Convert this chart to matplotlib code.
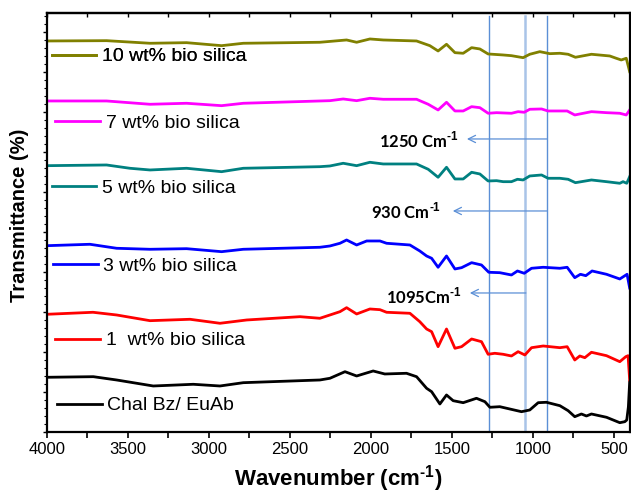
import matplotlib
matplotlib.use("Agg")
import matplotlib.pyplot as plt
from matplotlib.ticker import MultipleLocator

# -----------------------------
# FTIR spectra (stacked, arbitrary offset units)
# -----------------------------
wn_neat = [4000, 3714, 3570, 3344, 3097, 2932, 2788, 2315, 2253, 2160, 2088, 1986,
           1914, 1780, 1718, 1656, 1625, 1574, 1533, 1492, 1430, 1348, 1296, 1265,
           1204, 1070, 1019, 967, 916, 833, 782, 741, 700, 669, 638, 545, 463, 432,
           420, 410, 402]
tr_neat = [54.7, 55.3, 52.0, 46.0, 47.7, 46.0, 49.3, 52.0, 53.7, 60.3, 56.0, 61.0,
           58.0, 58.7, 55.3, 43.7, 40.3, 28.0, 37.0, 31.3, 29.3, 33.7, 30.3, 24.7,
           25.3, 20.3, 22.0, 29.3, 29.7, 26.3, 21.3, 15.3, 18.0, 16.0, 18.0, 14.7,
           9.3, 10.3, 12.0, 25.0, 50.0]

wn_1 = [4000, 3716, 3570, 3364, 3117, 2932, 2767, 2438, 2315, 2253, 2191, 2150, 2088,
        2006, 1944, 1903, 1759, 1698, 1656, 1625, 1585, 1533, 1481, 1440, 1378, 1317,
        1276, 1235, 1183, 1132, 1091, 1049, 1008, 936, 833, 788, 741, 710, 679, 638,
        545, 463, 426, 412, 402]
tr_1 = [117.7, 119.7, 117.0, 111.3, 112.7, 108.7, 112.0, 115.3, 113.7, 117.0, 120.3,
        124.3, 118.0, 123.0, 122.3, 119.7, 118.7, 110.3, 103.0, 100.3, 85.3, 103.0,
        83.7, 85.3, 93.0, 90.3, 77.7, 78.7, 77.7, 76.0, 80.3, 77.0, 84.3, 86.0, 84.3,
        85.3, 72.0, 76.0, 74.3, 79.7, 76.3, 70.3, 75.3, 76.3, 52.0]

wn_3 = [4000, 3735, 3570, 3364, 3138, 2922, 2788, 2315, 2253, 2191, 2150, 2088, 2026,
        1944, 1903, 1759, 1698, 1656, 1625, 1585, 1533, 1481, 1440, 1378, 1317, 1272,
        1204, 1132, 1095, 1053, 1008, 936, 833, 788, 741, 706, 673, 634, 545, 463,
        418, 402]
tr_3 = [186.3, 187.7, 183.7, 182.7, 183.3, 180.3, 182.7, 184.7, 186.0, 188.7, 192.0,
        187.0, 191.0, 191.0, 188.7, 187.0, 181.0, 176.0, 173.7, 164.7, 176.0, 163.0,
        164.3, 169.3, 167.0, 159.7, 159.3, 157.0, 161.0, 158.7, 163.7, 164.7, 163.7,
        164.7, 154.3, 157.7, 156.3, 161.0, 157.7, 153.0, 157.7, 144.0]

wn_5 = [4000, 3632, 3488, 3364, 3138, 2922, 2788, 2315, 2253, 2171, 2088, 2006, 1924,
        1718, 1646, 1585, 1533, 1481, 1430, 1378, 1327, 1276, 1224, 1183, 1132, 1095,
        1060, 1019, 946, 906, 833, 782, 737, 638, 545, 463, 443, 420, 402]
tr_5 = [266.3, 267.0, 263.7, 262.0, 263.7, 260.3, 263.7, 265.3, 266.0, 268.7, 266.3,
        269.7, 268.0, 268.0, 262.7, 254.7, 264.7, 253.0, 253.0, 259.7, 258.0, 251.0,
        251.3, 250.3, 250.3, 252.7, 252.0, 256.0, 257.0, 253.7, 253.7, 252.7, 249.3,
        252.0, 250.3, 248.7, 250.3, 248.7, 255.3]

wn_7 = [4000, 3632, 3364, 3138, 2922, 2788, 2315, 2253, 2171, 2088, 2006, 1924, 1718,
        1646, 1585, 1533, 1481, 1430, 1378, 1327, 1276, 1224, 1132, 1091, 1053, 1019,
        946, 906, 833, 788, 741, 638, 545, 463, 423, 402]
tr_7 = [331.0, 331.0, 327.7, 328.7, 326.3, 328.7, 331.0, 331.3, 333.0, 331.3, 333.7,
        332.7, 332.7, 327.7, 322.0, 329.7, 321.0, 321.0, 325.3, 324.3, 318.7, 319.3,
        318.7, 320.3, 319.7, 322.7, 323.0, 321.0, 321.0, 321.0, 317.0, 320.3, 319.3,
        318.7, 317.0, 322.0]

wn_10 = [4000, 3632, 3364, 3138, 2922, 2788, 2315, 2150, 2088, 2006, 1924, 1718, 1636,
         1585, 1533, 1481, 1430, 1378, 1327, 1276, 1183, 1132, 1060, 1019, 957, 895,
         833, 782, 737, 638, 525, 485, 454, 423, 402]
tr_10 = [391.0, 391.3, 388.7, 389.3, 386.3, 388.7, 389.7, 392.0, 389.7, 393.0, 392.0,
         391.0, 386.3, 381.0, 387.7, 379.3, 378.7, 384.3, 383.0, 378.0, 377.0, 376.3,
         374.3, 377.7, 380.3, 378.3, 378.7, 377.7, 374.7, 377.7, 376.0, 373.7, 372.0,
         373.7, 360.3]

labels = ["Chal Bz/ EuAb", "1  wt% bio silica", "3 wt% bio silica",
          "5 wt% bio silica", "7 wt% bio silica", "10 wt% bio silica"]
colors = ["black", "#ff0000", "#0000ff", "#008080", "#ff00ff", "#808000"]

# marker lines for the band assignments
band_lines = [1273, 1051, 914]
band_colors = ["#5b8fd6", "#a9c4e8", "#5b8fd6"]
band_widths = [1.0, 1.8, 1.0]

# arrows: (label, arrow start, arrow tip, height)
ann_labels = ["1250 Cm$^{\\text{-1}}$", "930 Cm$^{\\text{-1}}$", "1095Cm$^{\\text{-1}}$"]
ann_start = [914, 914, 1043]
ann_tip = [1407, 1494, 1389]
ann_y = [293, 221, 139]
ann_text_x = [1457, 1568, 1438]
ann_text_y = [285, 213.5, 128.5]

# legend rows sit under each trace (axes fraction)
legend_y = [0.063, 0.218, 0.396, 0.582, 0.737, 0.896]
legend_x = [0.017, 0.014, 0.010, 0.008, 0.014, 0.008]

# -----------------------------
# Plot
# -----------------------------
plt.rcParams["font.family"] = "Liberation Sans"
plt.rcParams["mathtext.fontset"] = "custom"
plt.rcParams["mathtext.rm"] = "Liberation Sans:bold"
plt.rcParams["mathtext.bf"] = "Liberation Sans:bold"

fig = plt.figure(figsize=(6.31, 4.95), dpi=100)
ax = fig.add_axes([0.0745, 0.1273, 0.9239, 0.8465])

series = [(wn_neat, tr_neat), (wn_1, tr_1), (wn_3, tr_3),
          (wn_5, tr_5), (wn_7, tr_7), (wn_10, tr_10)]

lines = []
for (wn, tr), col in zip(series, colors):
    ln, = ax.plot(wn, tr, color=col, lw=2.0, solid_joinstyle="round")
    lines.append(ln)

for ln, lab, lx, ly in zip(lines, labels, legend_x, legend_y):
    leg = ax.legend([ln], [lab], loc="center left", bbox_to_anchor=(lx, ly),
                    frameon=False, fontsize=14, handlelength=2.3,
                    handletextpad=0.3, borderpad=0, borderaxespad=0)
    ax.add_artist(leg)

for xv, c, w in zip(band_lines, band_colors, band_widths):
    ax.plot([xv, xv], [0, 416], color=c, lw=w, zorder=1)

for lab, x0, x1, yv, tx, ty in zip(ann_labels, ann_start, ann_tip, ann_y,
                                    ann_text_x, ann_text_y):
    ax.annotate("", xy=(x1, yv), xytext=(x0, yv),
                arrowprops=dict(arrowstyle="->", color="#5b8fd6", lw=0.9,
                                mutation_scale=13, shrinkA=0, shrinkB=0))
    ax.text(tx, ty, lab, ha="right", va="baseline", fontsize=12,
            fontweight="bold", family="Lato")

ax.set_xlim(4000, 400)
ax.set_ylim(0, 419)

ax.xaxis.set_major_locator(MultipleLocator(500))
ax.xaxis.set_minor_locator(MultipleLocator(250))
ax.yaxis.set_major_locator(MultipleLocator(40))
ax.yaxis.set_minor_locator(MultipleLocator(8))
ax.tick_params(axis="x", which="both", direction="out", length=4, width=1.2,
               labelsize=12, pad=3)
ax.tick_params(axis="y", which="major", direction="out", length=3, width=1.0,
               labelleft=False)
ax.tick_params(axis="y", which="minor", direction="out", length=2, width=0.8)

# small inward ticks along the top frame
top = ax.secondary_xaxis("top")
top.xaxis.set_major_locator(MultipleLocator(250))
top.tick_params(direction="in", length=3, width=1.0, labeltop=False)

for sp in ax.spines.values():
    sp.set_linewidth(1.6)
top.spines["top"].set_linewidth(1.6)

ax.set_xlabel("Wavenumber (cm$^{\\text{-1}}$)", fontsize=16, fontweight="bold")
ax.set_ylabel("Transmittance (%)", fontsize=14.5, fontweight="bold")
ax.xaxis.set_label_coords(0.5, -0.11)
ax.xaxis.label.set_va("center")
ax.yaxis.set_label_coords(-0.047, 0.518)
ax.yaxis.label.set_va("center")

fig.savefig("out.png", dpi=100)
